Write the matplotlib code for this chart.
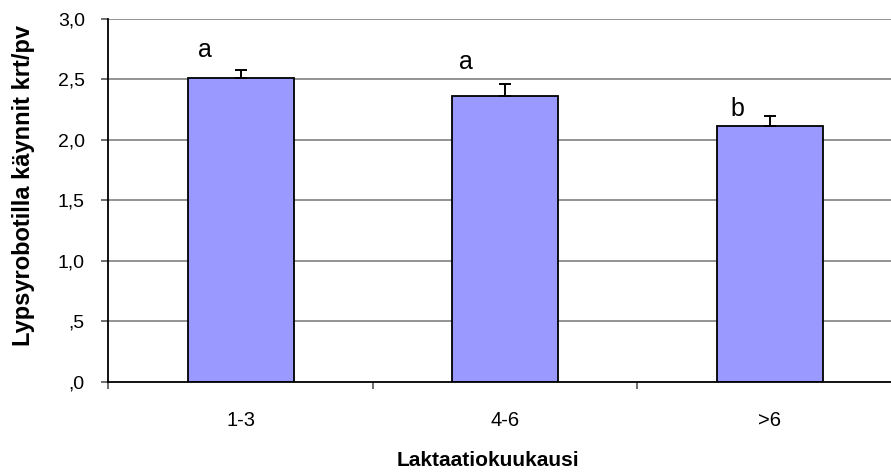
import matplotlib.pyplot as plt
import numpy as np
from matplotlib.ticker import FixedLocator

plt.rcParams['font.family'] = ['Liberation Sans', 'DejaVu Sans']

kuukaudet = ['1-3', '4-6', '>6']
kaynnit = [2.515, 2.364, 2.118]
virhe = [0.063, 0.096, 0.083]
merkit = ['a', 'a', 'b']

y_ticks = [0.0, 0.5, 1.0, 1.5, 2.0, 2.5, 3.0]
y_labels = [',0', ',5', '1,0', '1,5', '2,0', '2,5', '3,0']

fig = plt.figure(figsize=(8.91, 4.75), dpi=100)
ax = fig.add_axes([0.1216, 0.1958, 0.8906, 0.7642])

x = np.arange(len(kuukaudet))

for y in y_ticks[1:]:
    ax.axhline(y, color='#808080', lw=1.2, zorder=0)

ax.bar(x, kaynnit, width=0.4, color='#9999FF', edgecolor='black', linewidth=1.3, zorder=2)
ax.errorbar(x, kaynnit, yerr=[np.zeros(len(virhe)), virhe], fmt='none',
            ecolor='black', elinewidth=1.4, capsize=4.5, capthick=1.4, zorder=3)

# letters set by hand above each bar
merkki_x = [-0.136, 0.853, 1.877]
merkki_y = [2.69, 2.584, 2.198]
for mx, my, m in zip(merkki_x, merkki_y, merkit):
    ax.text(mx, my, m, ha='center', va='baseline', fontsize=18)

ax.set_xlim(-0.5, 2.5)
ax.set_ylim(0, 3.0)
ax.set_yticks(y_ticks)
ax.set_yticklabels(y_labels, fontsize=14)
ax.set_xticks(x)
ax.set_xticklabels(kuukaudet, fontsize=14.5)
ax.xaxis.set_minor_locator(FixedLocator([-0.5, 0.5, 1.5, 2.5]))
ax.tick_params(axis='x', which='major', length=0, pad=21)
ax.tick_params(axis='x', which='minor', length=5, width=1.2, color='#555555')
ax.tick_params(axis='y', length=5, width=1.2, color='#555555', pad=12)

for s in ['top', 'right']:
    ax.spines[s].set_visible(False)
ax.spines['left'].set_linewidth(1.3)
ax.spines['bottom'].set_linewidth(1.3)

fig.text(0.026, 1 - 185 / 475, 'Lypsyrobotilla käynnit krt/pv', rotation=90,
         ha='center', va='center', fontsize=17, fontweight='bold')
fig.text(488 / 891, 1 - 460 / 475, 'Laktaatiokuukausi', ha='center', va='center',
         fontsize=15, fontweight='bold')

fig.savefig('out.png', dpi=100)
